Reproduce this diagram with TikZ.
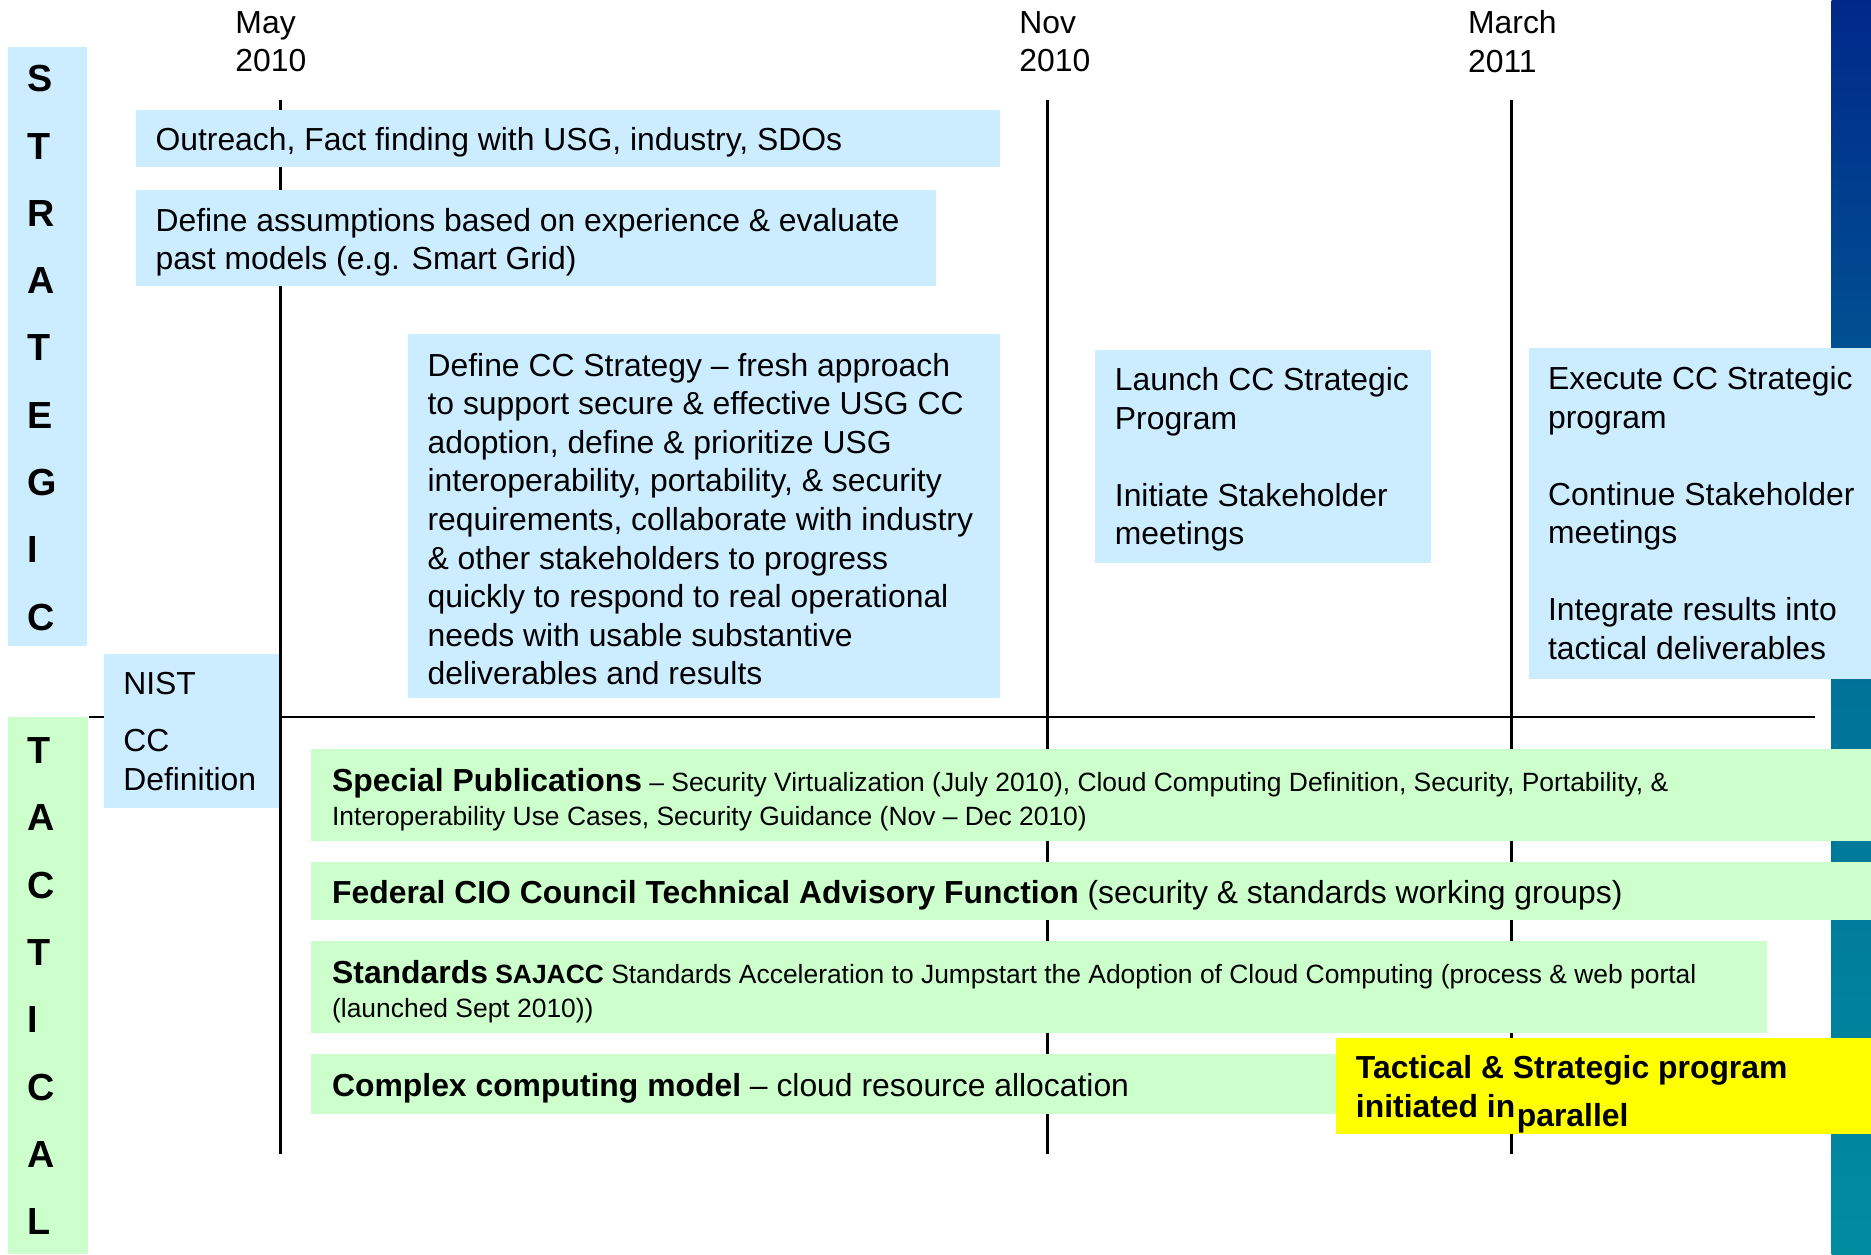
\documentclass[tikz,border=0pt]{standalone}
\usepackage{fontspec}
\setmainfont{Liberation Sans}
\definecolor{stratbg}{RGB}{204,236,255}
\definecolor{tactbg}{RGB}{204,255,204}
\definecolor{notebg}{RGB}{255,255,0}
\definecolor{bartop}{RGB}{0,40,138}
\definecolor{barmid}{RGB}{0,112,152}
\definecolor{barbot}{RGB}{0,140,160}
\newcommand{\mainsz}{\fontsize{15.2}{18.4}\selectfont}
\newcommand{\smallsz}{\fontsize{12.6}{16.4}\selectfont}
\newcommand{\bigbf}[1]{{\fontsize{15.2}{16.4}\selectfont\bfseries #1}}
\newcommand{\barsz}{\fontsize{18}{20}\selectfont\bfseries}

\begin{document}
\begin{tikzpicture}[x=0.02cm,y=-0.02cm,
    sbox/.style={fill=stratbg},
    tbox/.style={fill=tactbg},
    txt/.style={anchor=west,align=left,inner sep=0pt,font=\mainsz},
    letter/.style={anchor=west,inner sep=0pt,font=\barsz},
    month/.style={line width=1.5pt}]
    \useasboundingbox (0,0) rectangle (1568,1051);
    % Side bars
    \shade[top color=bartop,bottom color=barbot,middle color=barmid]
      (1535,0) rectangle (1568,1051);
    \fill[sbox] (7,39) rectangle (73,541);
    \fill[tbox] (7,601) rectangle (74,1051);
    \foreach \c [count=\i from 0] in {S,T,R,A,T,E,G,I,C}
      \node[letter] (s\i) at (23,66+56.4*\i) {\c};
    \foreach \c [count=\i from 0] in {T,A,C,T,I,C,A,L}
      \node[letter] (t\i) at (23,629+56.4*\i) {\c};
    % Timeline
    \node[txt] (may) at (197,35) {May\\2010};
    \node[txt] (nov) at (854,35) {Nov\\2010};
    \node[txt] (mar) at (1230,35) {March\\2011};
    \coordinate (may top) at (235,84);
    \coordinate (may bot) at (235,967);
    \coordinate (nov top) at (878,84);
    \coordinate (nov bot) at (878,967);
    \coordinate (mar top) at (1267,84);
    \coordinate (mar bot) at (1267,967);
    \draw[month] (may top) -- (may bot);
    \draw[month] (nov top) -- (nov bot);
    \draw[month] (mar top) -- (mar bot);
    \coordinate (split l) at (75,601);
    \coordinate (split r) at (1521,601);
    \draw[line width=0.9pt] (split l) -- (split r);
    % Strategic boxes
    \fill[sbox] (114,92) rectangle (838,140);
    \node[txt] (outreach) at (130,119)
      {Outreach, Fact finding with USG, industry, SDOs};
    \fill[sbox] (114,159) rectangle (784,240);
    \node[txt] (assume) at (130,203)
      {Define assumptions based on experience \& evaluate\\past models (e.g. Smart Grid)};
    \fill[sbox] (342,280) rectangle (838,585);
    \node[txt] (strategy) at (358,435)
      {Define CC Strategy – fresh approach\\
       to support secure \& effective USG CC\\
       adoption, define \& prioritize USG\\
       interoperability, portability, \& security\\
       requirements, collaborate with industry\\
       \& other stakeholders to progress\\
       quickly to respond to real operational\\
       needs with usable substantive\\
       deliverables and results};
    \fill[sbox] (918,293) rectangle (1199,472);
    \node[txt] (launch) at (934,385)
      {Launch CC Strategic\\Program\\[18.4pt]Initiate Stakeholder\\meetings};
    \fill[sbox] (1281,292) rectangle (1568,569);
    \node[txt] (execute) at (1297,430)
      {Execute CC Strategic\\program\\[18.4pt]Continue Stakeholder\\meetings\\[18.4pt]Integrate results into\\tactical deliverables};
    \fill[sbox] (87,548) rectangle (234,677);
    \node[txt] (nist) at (103,613) {NIST\\[9pt]CC\\Definition};
    % Tactical boxes
    \fill[tbox] (261,628) rectangle (1568,705);
    \node[txt,font=\smallsz] (pubs) at (278,670)
      {\bigbf{Special Publications} – Security Virtualization (July 2010), Cloud Computing Definition, Security, Portability, \&\\
       Interoperability Use Cases, Security Guidance (Nov – Dec 2010)};
    \fill[tbox] (261,722) rectangle (1568,771);
    \node[txt] (cio) at (278,750)
      {\textbf{Federal CIO Council Technical Advisory Function} (security \& standards working groups)};
    \fill[tbox] (261,789) rectangle (1481,866);
    \node[txt,font=\smallsz] (sajacc) at (278,831)
      {\bigbf{Standards} \textbf{SAJACC} Standards Acceleration to Jumpstart the Adoption of Cloud Computing (process \& web portal\\
       (launched Sept 2010))};
    \fill[tbox] (261,883) rectangle (1200,934);
    \node[txt] (model) at (278,912)
      {\textbf{Complex computing model} – cloud resource allocation};
    \fill[fill=notebg] (1120,870) rectangle (1568,950);
    \node[txt,font=\mainsz\bfseries] (parallel) at (1136,917)
      {Tactical \& Strategic program\\initiated in\hspace{0.05em}\raisebox{-4.5pt}{parallel}};
\end{tikzpicture}
\end{document}
